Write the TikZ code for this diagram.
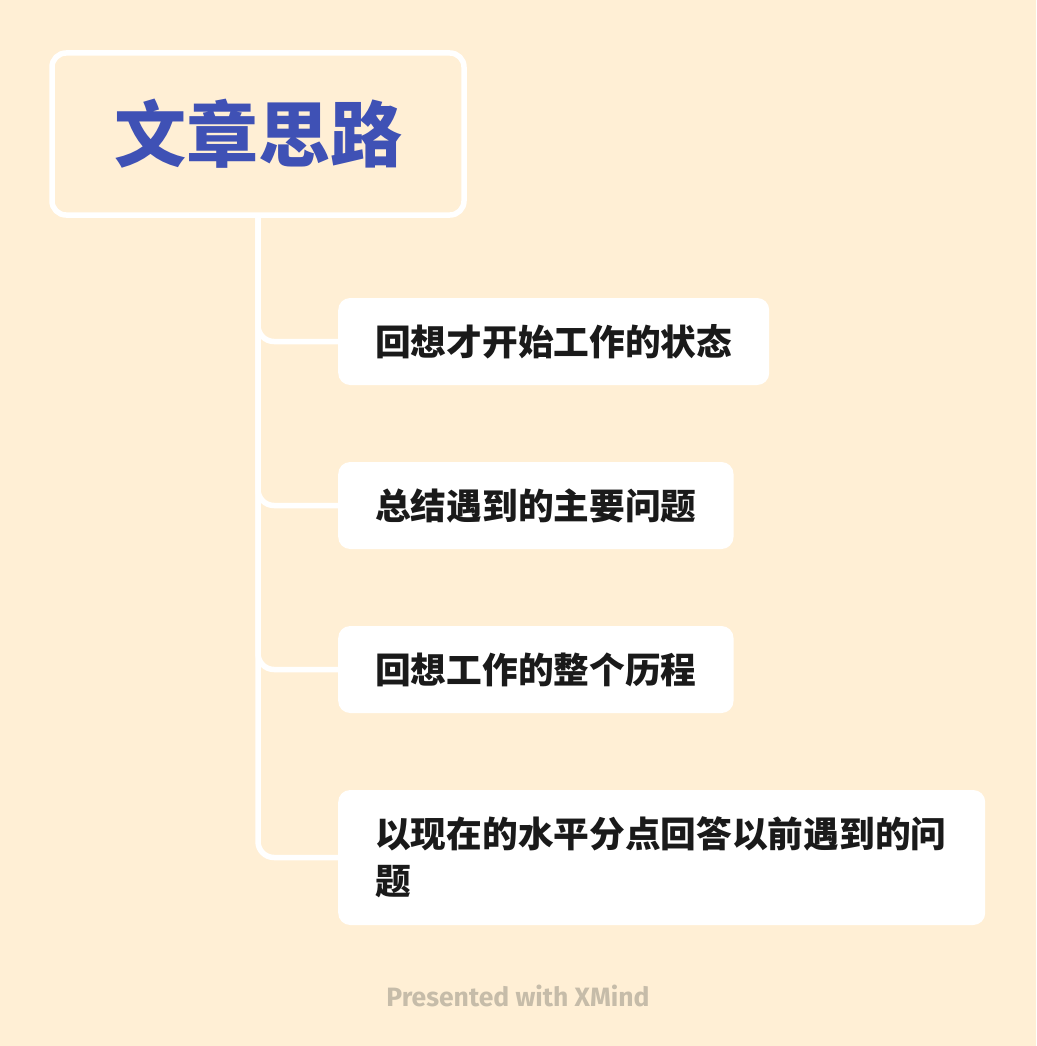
\documentclass[tikz,border=0pt]{standalone}
\usepackage{fontspec}
\setmainfont{Noto Sans CJK SC}
\newfontfamily\footfont{Fira Sans}
\definecolor{paper}{HTML}{FFEFD5}
\definecolor{titleblue}{HTML}{3F51B5}
\definecolor{inkgray}{HTML}{1A1A1A}
\definecolor{footgray}{HTML}{C6BCA9}

\begin{document}
\begin{tikzpicture}[x=1pt, y=-1pt,
  every node/.style={inner sep=0pt},
  roottopic/.style={draw=white, line width=5.5pt, rounded corners=14pt,
    minimum width=412pt, minimum height=162pt,
    font=\bfseries\fontsize{72}{80}\selectfont, text=titleblue},
  subtopic/.style={fill=white, rounded corners=12pt, anchor=west,
    inner xsep=37pt, minimum height=87pt, align=left,
    font=\bfseries\fontsize{35.7}{47}\selectfont, text=inkgray},
  branch/.style={draw=white, line width=5.5pt, rounded corners=16pt}]
  % page
  \fill[paper] (0,0) rectangle (1036,1046);
  \useasboundingbox (0,0) rectangle (1036,1046);
  % central topic
  \node[roottopic] (root) at (258,134) {文章思路};
  % subtopics
  \node[subtopic] (c1) at (338,341.5) {回想才开始工作的状态};
  \node[subtopic] (c2) at (338,505.5) {总结遇到的主要问题};
  \node[subtopic] (c3) at (338,669.5) {回想工作的整个历程};
  \node[subtopic, text width=573pt, minimum height=135pt] (c4) at (338,857.5)
    {以现在的水平分点回答以前遇到的问\\题};
  % branches
  \foreach \c in {c1,c2,c3,c4}
    \draw[branch] (root.south) |- (\c.west);
  % footer
  \node[font=\footfont\bfseries\fontsize{26.5}{30}\selectfont, text=footgray] (credit)
    at (518,996) {Presented with XMind};
\end{tikzpicture}
\end{document}
